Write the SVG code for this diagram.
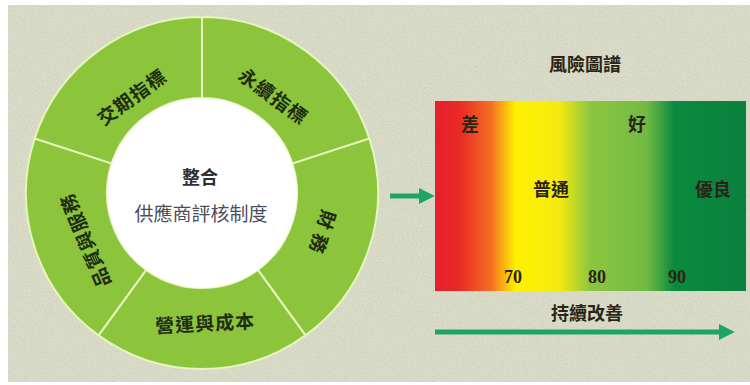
<svg xmlns="http://www.w3.org/2000/svg" width="750" height="385" viewBox="0 0 750 385">
<defs>
<style>
.seg{fill:#8cc43c;stroke:#e4f6bc;stroke-width:2}
.lbl{font-family:"Noto Sans CJK TC","Noto Sans CJK SC",sans-serif;font-size:19px;font-weight:700;fill:#1e2e14;text-anchor:middle;dominant-baseline:central;letter-spacing:1px}
.ctr{font-family:"Noto Sans CJK TC","Noto Sans CJK SC",sans-serif;text-anchor:middle;dominant-baseline:central}
.gl{font-family:"Noto Sans CJK TC","Noto Sans CJK SC",sans-serif;font-size:18px;font-weight:700;fill:#2a2418;text-anchor:middle;dominant-baseline:central}
.num{font-family:"Liberation Serif",serif;font-size:18px;font-weight:700;fill:#2a2418;text-anchor:middle;dominant-baseline:central}
.arr{stroke:#1ea466;stroke-width:5;fill:none}
</style>
<linearGradient id="risk" x1="0" y1="0" x2="1" y2="0">
<stop offset="0" stop-color="#e61e2a"/>
<stop offset="0.08" stop-color="#ea2a26"/>
<stop offset="0.18" stop-color="#f36f22"/>
<stop offset="0.26" stop-color="#fff100"/>
<stop offset="0.40" stop-color="#f5ea10"/>
<stop offset="0.50" stop-color="#8cc63f"/>
<stop offset="0.68" stop-color="#72ba44"/>
<stop offset="0.77" stop-color="#0b8a3e"/>
<stop offset="1" stop-color="#0a803f"/>
</linearGradient>
<filter id="noise" x="0" y="0" width="100%" height="100%">
<feTurbulence type="fractalNoise" baseFrequency="0.8" numOctaves="2" seed="3" result="t"/>
<feColorMatrix in="t" type="matrix" values="0 0 0 0 0.55  0 0 0 0 0.56  0 0 0 0 0.48  0 0 0 2.2 -1.0" result="n"/>
<feComposite in="n" in2="SourceGraphic" operator="in"/>
</filter>
<marker id="ah" viewBox="0 0 10 10" refX="2" refY="5" markerWidth="3.2" markerHeight="3.2" orient="auto" markerUnits="strokeWidth">
<path d="M0,0 L10,5 L0,10 Z" fill="#1ea466"/>
</marker>
</defs>
<rect x="0" y="0" width="750" height="385" fill="#ffffff"/>
<rect x="8" y="5" width="742" height="377" fill="#dadcc8"/>
<rect x="8" y="5" width="742" height="377" fill="#000" filter="url(#noise)" opacity="0.75"/>

<g id="ring">
<g id="seg-delivery">
<path class="seg" d="M111.65,163.64 L34.61,138.62 A176,176 0 0 1 202,17 L202,98 A95,95 0 0 0 111.65,163.64 Z"/>
<text class="lbl" transform="translate(131,96) rotate(-36)">交期指標</text>
</g>
<g id="seg-sustain">
<path class="seg" d="M202,98 L202,17 A176,176 0 0 1 369.39,138.62 L292.35,163.64 A95,95 0 0 0 202,98 Z"/>
<text class="lbl" transform="translate(274,95) rotate(36)">永續指標</text>
</g>
<g id="seg-finance">
<path class="seg" d="M292.35,163.64 L369.39,138.62 A176,176 0 0 1 305.45,335.38 L257.84,269.86 A95,95 0 0 0 292.35,163.64 Z"/>
<text class="lbl" transform="translate(323,235) rotate(108)" style="letter-spacing:6px">財務</text>
</g>
<g id="seg-operation">
<path class="seg" d="M257.84,269.86 L305.45,335.38 A176,176 0 0 1 98.55,335.38 L146.16,269.86 A95,95 0 0 0 257.84,269.86 Z"/>
<text class="lbl" transform="translate(205,322) rotate(-3)">營運與成本</text>
</g>
<g id="seg-quality">
<path class="seg" d="M146.16,269.86 L98.55,335.38 A176,176 0 0 1 34.61,138.62 L111.65,163.64 A95,95 0 0 0 146.16,269.86 Z"/>
<text class="lbl" transform="translate(84,241) rotate(-113)">品質與服務</text>
</g>
<g id="center">
<circle cx="202" cy="193" r="95" fill="#ffffff"/>
<text class="ctr" x="200" y="176" font-size="18" font-weight="700" fill="#2e3038">整合</text>
<text class="ctr" x="201" y="212" font-size="19" font-weight="400" fill="#4a4e5c">供應商評核制度</text>
</g>
</g>

<g id="risk-map">
<text class="gl" x="585" y="63">風險圖譜</text>
<rect x="435" y="101" width="311" height="190" fill="url(#risk)"/>
<text class="gl" x="470" y="123" fill="#3a140e">差</text>
<text class="gl" x="637" y="123">好</text>
<text class="gl" x="551" y="188">普通</text>
<text class="gl" x="713" y="188">優良</text>
<text class="num" x="513" y="277">70</text>
<text class="num" x="597" y="277">80</text>
<text class="num" x="677" y="277">90</text>
<text class="gl" x="587" y="312">持續改善</text>
</g>

<g id="connectors">
<line class="arr" x1="390" y1="196" x2="422" y2="196" marker-end="url(#ah)"/>
<line class="arr" x1="435" y1="332" x2="722" y2="332" marker-end="url(#ah)"/>
</g>
</svg>
